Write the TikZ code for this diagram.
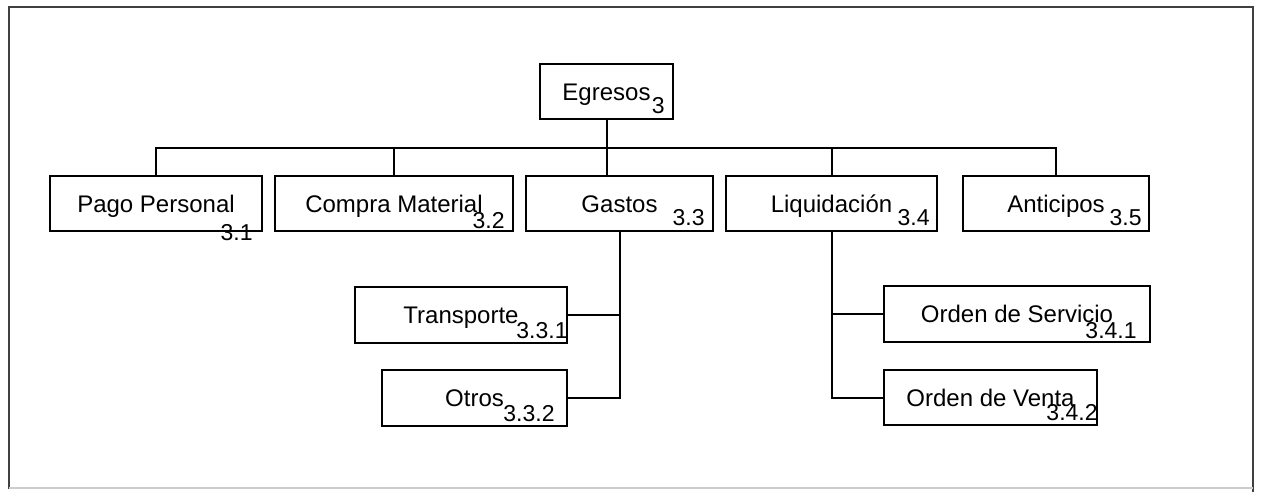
\documentclass[tikz,border=0pt]{standalone}
\usepackage{fontspec}
\setmainfont{Liberation Sans}
\begin{document}
\begin{tikzpicture}[x=0.5pt,y=-0.5pt,
  box/.style={draw, line width=1pt, rectangle, inner sep=0pt, minimum height=27.5pt,
    text height=8.6pt, text depth=0pt, font=\fontsize{12}{14}\selectfont},
  num/.style={anchor=base east, inner sep=0pt, font=\fontsize{11.5}{14}\selectfont},
  wire/.style={line width=1pt},
  frame/.style={line width=0.9pt, draw=black!75}]
\useasboundingbox (0,0) rectangle (1261,494);
% frame
\draw[frame] (9,489) -- (9,7) -- (1253,7) -- (1253,492);
\draw[line width=0.8pt, draw=black!20] (9,488) -- (1253,488);
% boxes
\node[box, minimum width=66.5pt] (egr) at (606.5,91.5) {Egresos};
\node[box, minimum width=106pt] (pago) at (156,203.5) {Pago Personal};
\node[box, minimum width=119pt] (comp) at (394,203.5) {Compra Material};
\node[box, minimum width=93.5pt] (gas) at (619.5,203.5) {Gastos};
\node[box, minimum width=105.5pt] (liq) at (831.5,203.5) {Liquidación};
\node[box, minimum width=93pt] (ant) at (1056,203.5) {Anticipos};
\node[box, minimum width=106pt, minimum height=28pt] (tra) at (461,315) {Transporte};
\node[box, minimum width=92.5pt, minimum height=28pt] (otr) at (474.5,398) {Otros};
\node[box, minimum width=133pt, minimum height=28pt] (ser) at (1017,314) {Orden de Servicio};
\node[box, minimum width=106.5pt] (ven) at (990.5,397.5) {Orden de Venta};
% numbers
\node[num, xshift=-4.5pt, yshift=3.5pt] (n3) at (egr.south east) {3};
\node[num, xshift=-5pt, yshift=-4pt] (n31) at (pago.south east) {3.1};
\node[num, xshift=-4.5pt, yshift=2pt] (n32) at (comp.south east) {3.2};
\node[num, xshift=-4.5pt, yshift=3.5pt] (n33) at (gas.south east) {3.3};
\node[num, xshift=-4pt, yshift=3.5pt] (n34) at (liq.south east) {3.4};
\node[num, xshift=-4pt, yshift=3.5pt] (n35) at (ant.south east) {3.5};
\node[num, xshift=0pt, yshift=3pt] (n331) at (tra.south east) {3.3.1};
\node[num, xshift=-6.5pt, yshift=3pt] (n332) at (otr.south east) {3.3.2};
\node[num, xshift=-7pt, yshift=2.5pt] (n341) at (ser.south east) {3.4.1};
\node[num, xshift=0pt, yshift=3pt] (n342) at (ven.south east) {3.4.2};
% connectors
\coordinate (bus) at (606,148);
\draw[wire] (egr.south) -- (egr.south |- gas.north);
\draw[wire] (pago.north) -- (pago.north |- bus) -- (ant.north |- bus) -- (ant.north);
\draw[wire] (comp.north) -- (comp.north |- bus);
\draw[wire] (liq.north) -- (liq.north |- bus);
\draw[wire] (gas.south) -- (gas.south |- otr.east) -- (otr.east);
\draw[wire] (tra.east) -- (tra.east -| gas.south);
\draw[wire] (liq.south) -- (liq.south |- ven.west) -- (ven.west);
\draw[wire] (ser.west) -- (ser.west -| liq.south);
\end{tikzpicture}
\end{document}
